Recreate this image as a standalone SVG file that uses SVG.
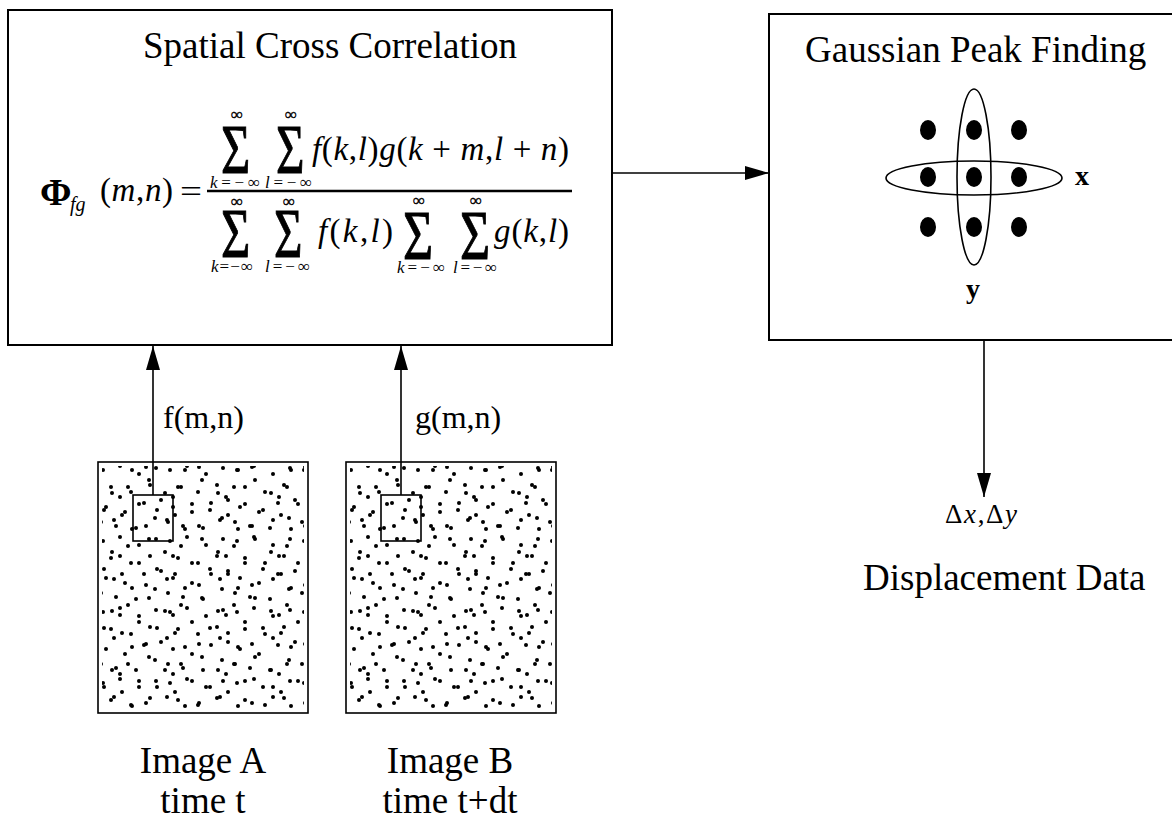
<svg xmlns="http://www.w3.org/2000/svg" xmlns:xlink="http://www.w3.org/1999/xlink" width="1172" height="821" viewBox="0 0 1172 821">
<style>
.box{fill:#fff;stroke:#000;stroke-width:2}
.img{fill:none;stroke:#000;stroke-width:1.6}
.conn{stroke:#000;stroke-width:1.6;fill:none}
.t{font-family:"Liberation Serif","Times New Roman",serif;fill:#000}
.mi{font-family:"Liberation Serif","Times New Roman",serif;font-style:italic;fill:#000}
.up{font-style:normal}
.sig{font-family:"Liberation Serif","Times New Roman",serif;font-size:70px;fill:#000;stroke:#000;stroke-width:1}
.inf{font-family:"Liberation Serif",serif;font-size:17px;fill:#000;stroke:#000;stroke-width:0.4}
.lim{font-family:"Liberation Serif","Times New Roman",serif;font-style:italic;font-size:17px;fill:#000}
.dot{fill:#000}
</style>
<defs>
<marker id="ah" markerUnits="userSpaceOnUse" markerWidth="24" markerHeight="14" refX="24" refY="7" orient="auto">
<path d="M0,0 L24,7 L0,14 z" fill="#000"/>
</marker>
<pattern id="p1" patternUnits="userSpaceOnUse" width="67" height="71">
<circle class="dot" cx="5" cy="8" r="2"/><circle class="dot" cx="22" cy="4" r="2"/><circle class="dot" cx="41" cy="12" r="2"/><circle class="dot" cx="58" cy="6" r="2"/><circle class="dot" cx="13" cy="25" r="2"/><circle class="dot" cx="33" cy="30" r="2"/><circle class="dot" cx="52" cy="23" r="2"/><circle class="dot" cx="63" cy="38" r="2"/><circle class="dot" cx="8" cy="45" r="2"/><circle class="dot" cx="27" cy="50" r="2"/><circle class="dot" cx="46" cy="41" r="2"/><circle class="dot" cx="18" cy="64" r="2"/><circle class="dot" cx="38" cy="66" r="2"/><circle class="dot" cx="57" cy="56" r="2"/><circle class="dot" cx="3" cy="60" r="2"/>
</pattern>
<pattern id="p2" patternUnits="userSpaceOnUse" x="20" y="11" width="53" height="59">
<circle class="dot" cx="10" cy="14" r="2"/><circle class="dot" cx="31" cy="7" r="2"/><circle class="dot" cx="47" cy="20" r="2"/><circle class="dot" cx="21" cy="31" r="2"/><circle class="dot" cx="39" cy="37" r="2"/><circle class="dot" cx="4" cy="42" r="2"/><circle class="dot" cx="28" cy="53" r="2"/><circle class="dot" cx="49" cy="47" r="2"/><circle class="dot" cx="14" cy="56" r="2"/><circle class="dot" cx="2" cy="24" r="2"/>
</pattern>
<g id="speckle">
<rect x="4" y="4" width="202" height="243" fill="url(#p1)"/>
<rect x="4" y="4" width="202" height="243" fill="url(#p2)"/>
</g>
</defs>
<rect width="1172" height="821" fill="#fff"/>

<g id="cross-correlation">
<rect class="box" x="8" y="10" width="604" height="335"/>
<text class="t" x="143" y="58" font-size="37">Spatial Cross Correlation</text>
<text class="t" x="40" y="205" font-size="38" font-weight="bold">Φ</text>
<text class="mi" x="70" y="211" font-size="20">fg</text>
<text class="mi" x="100" y="201" font-size="33" textLength="73" lengthAdjust="spacing"><tspan class="up">(</tspan>m<tspan class="up">,</tspan>n<tspan class="up">)</tspan></text>
<text class="t" x="180" y="202" font-size="32" textLength="22" lengthAdjust="spacingAndGlyphs">=</text>
<line x1="207" y1="191" x2="572" y2="191" stroke="#000" stroke-width="2.5"/>
<!-- numerator -->
<text class="inf" x="237" y="120" text-anchor="middle">∞</text>
<text class="inf" x="291" y="120" text-anchor="middle">∞</text>
<text class="sig" transform="translate(221,173) scale(0.72,1)">Σ</text>
<text class="sig" transform="translate(276,173) scale(0.7,1)">Σ</text>
<text class="lim" x="210" y="188" textLength="50" lengthAdjust="spacing">k<tspan class="up">=−∞</tspan></text>
<text class="lim" x="265" y="188" textLength="47" lengthAdjust="spacing">l<tspan class="up">=−∞</tspan></text>
<text class="mi" x="312" y="160" font-size="33" textLength="257" lengthAdjust="spacing">f<tspan class="up">(</tspan>k<tspan class="up">,</tspan>l<tspan class="up">)</tspan>g<tspan class="up">(</tspan>k<tspan class="up"> + </tspan>m<tspan class="up">,</tspan>l<tspan class="up"> + </tspan>n<tspan class="up">)</tspan></text>
<!-- denominator -->
<text class="inf" x="237" y="207" text-anchor="middle">∞</text>
<text class="inf" x="289" y="207" text-anchor="middle">∞</text>
<text class="inf" x="419" y="206" text-anchor="middle">∞</text>
<text class="inf" x="476" y="206" text-anchor="middle">∞</text>
<text class="sig" transform="translate(221,257) scale(0.72,1)">Σ</text>
<text class="sig" transform="translate(274,257) scale(0.7,1)">Σ</text>
<text class="sig" transform="translate(403,259) scale(0.74,1)">Σ</text>
<text class="sig" transform="translate(460,259) scale(0.74,1)">Σ</text>
<text class="lim" x="211" y="272" textLength="42" lengthAdjust="spacing">k<tspan class="up">=−∞</tspan></text>
<text class="lim" x="265" y="272" textLength="45" lengthAdjust="spacing">l<tspan class="up">=−∞</tspan></text>
<text class="lim" x="397" y="273" textLength="48" lengthAdjust="spacing">k<tspan class="up">=−∞</tspan></text>
<text class="lim" x="453" y="273" textLength="44" lengthAdjust="spacing">l<tspan class="up">=−∞</tspan></text>
<text class="mi" x="318" y="242" font-size="33" textLength="75" lengthAdjust="spacing">f<tspan class="up">(</tspan>k<tspan class="up">,</tspan>l<tspan class="up">)</tspan></text>
<text class="mi" x="494" y="242" font-size="33" textLength="75" lengthAdjust="spacing">g<tspan class="up">(</tspan>k<tspan class="up">,</tspan>l<tspan class="up">)</tspan></text>
</g>

<g id="peak-finding">
<rect class="box" x="769" y="14" width="420" height="326"/>
<text class="t" x="805" y="62" font-size="37">Gaussian Peak Finding</text>
<g fill="#000">
<ellipse cx="928" cy="130" rx="8" ry="10"/><ellipse cx="974" cy="130" rx="8" ry="10"/><ellipse cx="1019" cy="130" rx="8" ry="10"/>
<ellipse cx="928" cy="177" rx="8" ry="10"/><ellipse cx="974" cy="177" rx="8" ry="10"/><ellipse cx="1019" cy="177" rx="8" ry="10"/>
<ellipse cx="928" cy="227" rx="8" ry="10"/><ellipse cx="974" cy="227" rx="8" ry="10"/><ellipse cx="1019" cy="227" rx="8" ry="10"/>
</g>
<ellipse cx="974" cy="177" rx="17" ry="88" fill="none" stroke="#000" stroke-width="1.6"/>
<ellipse cx="974" cy="178" rx="88" ry="17" fill="none" stroke="#000" stroke-width="1.6"/>
<text class="t" x="1075" y="185" font-size="28" font-weight="bold">x</text>
<text class="t" x="973" y="298" font-size="28" font-weight="bold" text-anchor="middle">y</text>
</g>

<g id="image-a">
<use xlink:href="#speckle" x="98" y="462"/>
<rect class="img" x="98" y="462" width="210" height="251"/>
<rect class="img" x="133" y="495" width="40" height="46"/>
<text class="t" x="203" y="773" font-size="37" text-anchor="middle">Image A</text>
<text class="t" x="203" y="813" font-size="37" text-anchor="middle">time t</text>
</g>

<g id="image-b">
<use xlink:href="#speckle" x="346" y="462"/>
<rect class="img" x="346" y="462" width="210" height="251"/>
<rect class="img" x="381" y="495" width="40" height="46"/>
<text class="t" x="450" y="773" font-size="37" text-anchor="middle">Image B</text>
<text class="t" x="450" y="813" font-size="37" text-anchor="middle">time t+dt</text>
</g>

<g id="output">
<text class="t" x="945" y="523" font-size="27" textLength="72" lengthAdjust="spacing">Δ<tspan font-style="italic">x</tspan>,Δ<tspan font-style="italic">y</tspan></text>
<text class="t" x="863" y="590" font-size="37">Displacement Data</text>
</g>

<g id="connectors">
<line class="conn" x1="612" y1="173" x2="769" y2="173" marker-end="url(#ah)"/>
<line class="conn" x1="153" y1="495" x2="153" y2="346" marker-end="url(#ah)"/>
<line class="conn" x1="401" y1="495" x2="401" y2="346" marker-end="url(#ah)"/>
<line class="conn" x1="984" y1="340" x2="984" y2="497" marker-end="url(#ah)"/>
<text class="t" x="163" y="428" font-size="32">f(m,n)</text>
<text class="t" x="415" y="428" font-size="32">g(m,n)</text>
</g>
</svg>
